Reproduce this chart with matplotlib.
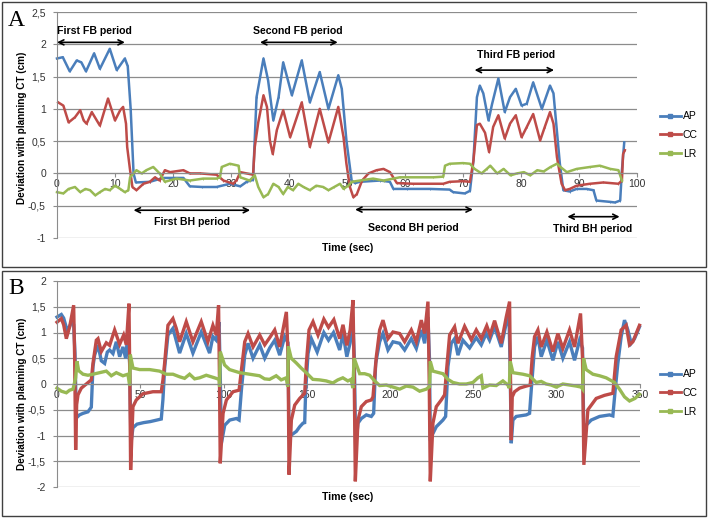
import numpy as np
import matplotlib
matplotlib.use("Agg")
import matplotlib.pyplot as plt
from matplotlib.lines import Line2D
from matplotlib.patches import Rectangle

plt.rcParams['font.family'] = ['Liberation Sans Narrow', 'Liberation Sans', 'DejaVu Sans']

# ---- panel A data (time in s, deviation in cm) ----
a_ap_t = [0, 1, 2.2, 3.4, 4.2, 5.0, 6.4, 7.4, 9.1, 10.3, 11.7, 12.2, 12.7, 13.2, 13.6, 16.0, 18.3, 21.8,
          22.9, 25.0, 27.5, 29.8, 31.6, 32.7, 33.8, 34.4, 35.6, 36.4, 37.3, 38.2, 39.0, 40.5, 42.2, 43.6,
          45.3, 46.8, 48.5, 49.1, 49.9, 50.8, 51.4, 52.2, 55.7, 57.4, 58.0, 60.3, 64.3, 67.7, 68.3, 70.3,
          71.2, 71.8, 72.4, 72.9, 73.5, 74.4, 75.0, 76.1, 77.2, 78.1, 79.1, 80.1, 81.0, 82.1, 83.6, 85.0,
          85.6, 86.7, 87.3, 88.4, 89.6, 91.3, 92.5, 93.0, 95.3, 96.2, 97.1, 97.4, 97.8]
a_ap_v = [1.78, 1.80, 1.58, 1.75, 1.72, 1.58, 1.86, 1.62, 1.93, 1.60, 1.78, 1.66, 1.00, 0.00, -0.14, -0.13,
          -0.07, -0.07, -0.20, -0.21, -0.21, -0.16, -0.20, -0.13, -0.10, 1.18, 1.78, 1.44, 0.82, 1.18, 1.72,
          1.21, 1.75, 1.10, 1.57, 1.00, 1.52, 1.31, 0.51, -0.11, -0.15, -0.13, -0.11, -0.13, -0.24, -0.24,
          -0.24, -0.25, -0.29, -0.31, -0.27, 0.20, 1.18, 1.36, 1.24, 0.82, 1.07, 1.47, 0.95, 1.18, 1.31,
          1.05, 1.08, 1.41, 1.00, 1.36, 1.24, 0.15, -0.26, -0.28, -0.24, -0.24, -0.26, -0.42, -0.44, -0.45,
          -0.42, 0.05, 0.48]

a_cc_t = [0.2, 1.1, 2.0, 3.1, 4.0, 4.6, 5.1, 6.0, 7.4, 8.8, 10.0, 10.9, 11.4, 11.9, 12.1, 12.6, 13.0, 13.7,
          14.9, 16.0, 16.9, 17.7, 18.6, 19.5, 21.8, 22.9, 24.7, 27.5, 28.7, 30.4, 31.0, 31.6, 33.8, 34.1,
          34.7, 35.6, 36.2, 36.7, 37.2, 37.9, 39.0, 40.2, 42.2, 43.6, 45.3, 46.8, 48.5, 49.4, 49.9, 50.5,
          51.1, 51.7, 52.6, 53.7, 55.1, 56.3, 57.4, 58.6, 61.4, 66.6, 67.7, 70.0, 71.2, 71.8, 72.4, 72.9,
          73.8, 74.5, 75.2, 76.1, 77.2, 78.1, 79.1, 80.1, 81.0, 82.1, 83.3, 84.1, 85.0, 85.6, 86.2, 87.0,
          87.6, 88.4, 89.6, 91.9, 94.2, 96.8, 97.4, 97.6, 97.9]
a_cc_v = [1.10, 1.05, 0.79, 0.87, 0.98, 0.82, 0.77, 0.95, 0.74, 1.16, 0.82, 0.98, 1.03, 0.77, 0.41, 0.05,
          -0.21, -0.26, -0.16, -0.13, -0.06, -0.11, 0.05, 0.02, 0.05, 0.00, 0.00, -0.02, -0.11, -0.16, -0.10,
          0.02, -0.02, 0.41, 0.79, 1.21, 1.03, 0.51, 0.30, 0.67, 0.98, 0.56, 1.10, 0.41, 1.00, 0.48, 1.03,
          0.56, 0.15, -0.21, -0.37, -0.32, -0.11, 0.00, 0.05, 0.07, 0.02, -0.15, -0.16, -0.16, -0.13, -0.12,
          -0.13, 0.20, 0.75, 0.77, 0.63, 0.33, 0.72, 0.90, 0.54, 0.77, 0.90, 0.56, 0.72, 0.92, 0.51, 0.72,
          0.95, 0.77, 0.25, -0.16, -0.26, -0.24, -0.19, -0.16, -0.14, -0.16, -0.11, 0.30, 0.36]

a_lr_t = [0, 1.1, 2.0, 3.1, 4.0, 4.9, 5.7, 6.6, 7.4, 8.3, 9.1, 10.0, 10.9, 11.7, 12.3, 12.6, 13.7, 14.6,
          15.4, 16.6, 17.7, 18.6, 20.6, 22.9, 25.2, 27.5, 28.1, 28.4, 29.8, 31.3, 31.6, 33.2, 34.1, 34.7,
          35.6, 36.4, 37.3, 38.2, 39.0, 39.8, 40.7, 41.6, 42.5, 43.6, 44.7, 45.9, 46.8, 47.8, 48.8, 49.4,
          50.2, 50.8, 52.2, 54.5, 56.3, 59.1, 64.9, 66.6, 66.9, 67.7, 70.0, 71.2, 72.0, 73.2, 74.1, 74.7,
          75.9, 77.0, 78.2, 79.3, 80.5, 81.6, 82.8, 83.9, 85.1, 86.2, 86.8, 87.9, 89.6, 91.9, 93.6, 95.4,
          96.8, 97.4]
a_lr_v = [-0.29, -0.31, -0.24, -0.21, -0.29, -0.24, -0.26, -0.34, -0.29, -0.24, -0.26, -0.19, -0.24, -0.29,
          -0.26, -0.06, 0.05, 0.00, 0.05, 0.10, 0.00, -0.13, -0.08, -0.11, -0.08, -0.08, -0.06, 0.10, 0.15,
          0.12, -0.06, -0.11, -0.03, -0.21, -0.37, -0.32, -0.16, -0.21, -0.32, -0.21, -0.26, -0.16, -0.21,
          -0.26, -0.19, -0.21, -0.26, -0.21, -0.16, -0.24, -0.19, -0.13, -0.11, -0.08, -0.11, -0.06, -0.06,
          -0.05, 0.12, 0.15, 0.16, 0.15, 0.07, 0.00, 0.07, 0.12, 0.00, 0.07, -0.03, 0.00, 0.02, -0.03, 0.05,
          0.03, 0.10, 0.15, 0.10, 0.02, 0.07, 0.10, 0.12, 0.07, 0.05, -0.11]

# ---- panel B data ----
b_ap_t = [0, 2.6, 4.0, 6.0, 7.6, 8.6, 10.0, 10.8, 11.6, 13.5, 15.6, 18.6, 20.6, 21.6, 22.6, 24.6, 26.6,
          28.6, 30.2, 31.6, 33.6, 35.6, 37.6, 39.6, 41.2, 42.6, 43.6, 44.4, 45.6, 48.0, 52.0, 56.0, 60.0,
          62.6, 63.6, 64.6, 66.6, 69.6, 73.6, 77.6, 81.6, 86.6, 91.6, 93.6, 95.6, 97.3, 98.0, 98.7, 100.7,
          103.7, 107.7, 109.3, 110.7, 112.7, 114.7, 117.7, 121.7, 124.7, 127.7, 130.7, 133.7, 136.7, 138.7,
          139.3, 140.7, 143.7, 145.7, 147.7, 148.7, 149.3, 150.7, 152.7, 156.2, 160.2, 163.0, 166.0, 169.7,
          171.7, 174.0, 176.0, 177.5, 178.5, 179.3, 180.7, 182.7, 185.7, 188.7, 190.1, 191.3, 193.7, 195.7,
          198.7, 201.7, 205.7, 208.7, 212.7, 215.7, 218.7, 220.7, 222.7, 223.6, 224.1, 225.7, 227.7, 231.7,
          233.3, 234.7, 236.7, 238.7, 240.7, 243.7, 247.7, 251.7, 254.7, 257.7, 259.7, 262.7, 266.7, 269.7,
          271.3, 272.0, 272.7, 273.7, 275.7, 281.7, 283.7, 284.7, 286.7, 288.7, 290.7, 294.1, 297.7, 300.7,
          303.7, 307.7, 310.7, 313.7, 315.5, 316.3, 317.7, 320.7, 325.7, 331.7, 333.7, 335.1, 336.7, 338.7,
          340.7, 342.7, 344.7, 346.7, 349.7]
b_ap_v = [1.30, 1.35, 1.28, 1.05, 1.12, 1.20, 1.15, 0.60, -0.66, -0.60, -0.57, -0.54, -0.45, 0.34, 0.56,
          0.76, 0.45, 0.40, 0.62, 0.66, 0.59, 0.82, 0.53, 0.72, 0.50, 0.98, 0.40, -1.15, -0.85, -0.78, -0.75,
          -0.73, -0.70, -0.68, -0.30, 0.30, 0.95, 1.08, 0.60, 0.98, 0.60, 1.01, 0.60, 0.92, 0.85, 1.20, 0.20,
          -1.15, -0.80, -0.70, -0.67, -0.70, -0.12, 0.56, 0.79, 0.50, 0.76, 0.50, 0.70, 0.85, 0.56, 0.92, 0.80,
          -1.02, -0.99, -0.92, -0.83, -0.76, -0.75, -0.12, 0.59, 0.88, 0.62, 1.00, 0.85, 1.00, 0.66, 0.98,
          0.53, 0.80, 1.30, 0.50, -1.21, -0.76, -0.67, -0.60, -0.63, -0.57, 0.40, 0.82, 0.98, 0.66, 0.82, 0.79,
          0.66, 0.88, 0.69, 1.05, 0.79, 1.30, 0.50, -1.02, -0.96, -0.83, -0.70, -0.63, 0.34, 0.79, 0.88, 0.56,
          0.85, 0.70, 0.90, 0.76, 0.98, 0.85, 1.11, 0.72, 1.18, 1.37, 0.40, -1.15, -0.70, -0.63, -0.60, -0.57,
          -0.12, 0.72, 0.92, 0.53, 0.85, 0.46, 0.82, 0.50, 0.82, 0.46, 0.85, 0.70, -1.02, -0.80, -0.70, -0.63,
          -0.60, -0.62, -0.12, 0.40, 0.92, 1.24, 1.05, 0.79, 0.88, 1.11]

b_cc_t = [0, 2.6, 4.0, 5.6, 7.6, 9.0, 10.0, 10.6, 11.2, 11.8, 12.6, 14.6, 17.6, 20.6, 21.6, 23.6, 24.6,
          26.6, 29.6, 31.6, 34.6, 37.6, 40.0, 41.6, 43.2, 43.7, 44.2, 45.6, 47.6, 51.6, 57.6, 62.6, 63.6,
          64.6, 66.6, 69.6, 71.6, 73.6, 77.6, 81.6, 86.6, 90.6, 93.6, 95.6, 97.0, 97.5, 98.0, 99.7, 101.7,
          105.7, 109.3, 110.7, 112.7, 114.7, 117.7, 121.7, 124.7, 127.7, 130.7, 133.7, 137.7, 138.7, 139.3,
          140.7, 142.7, 145.7, 148.7, 149.7, 151.3, 153.7, 156.7, 160.2, 163.0, 166.2, 169.7, 171.7, 174.0,
          176.0, 177.7, 178.4, 179.1, 180.7, 182.7, 185.7, 188.7, 189.7, 191.7, 193.7, 195.7, 198.7, 201.7,
          205.7, 208.7, 212.7, 215.7, 218.7, 220.7, 222.7, 223.4, 224.1, 225.7, 227.7, 230.7, 232.7, 233.7,
          235.7, 238.7, 240.7, 244.7, 248.7, 251.7, 254.7, 258.0, 260.0, 262.7, 266.7, 269.7, 271.7, 272.2,
          272.7, 273.3, 274.7, 277.7, 281.7, 284.1, 285.3, 286.7, 288.7, 290.7, 294.1, 297.7, 300.7, 303.7,
          307.7, 310.7, 314.3, 315.5, 316.3, 318.7, 323.7, 328.7, 333.7, 335.7, 338.7, 341.7, 343.7, 345.7,
          349.7]
b_cc_v = [1.20, 1.27, 1.15, 0.88, 1.11, 1.35, 1.53, 0.50, -1.28, -0.40, -0.21, -0.08, 0.00, 0.08, 0.40,
          0.85, 0.88, 0.63, 0.80, 0.75, 1.05, 0.77, 0.95, 0.76, 1.56, 0.20, -1.67, -0.44, -0.31, -0.19, -0.15,
          -0.15, 0.08, 0.40, 1.14, 1.27, 1.08, 0.82, 1.21, 0.82, 1.21, 0.82, 1.14, 0.95, 1.53, 0.20, -1.54,
          -0.57, -0.31, -0.15, -0.12, 0.27, 0.82, 0.98, 0.72, 0.95, 0.76, 0.90, 1.05, 0.72, 1.40, 0.60, -1.76,
          -0.70, -0.41, -0.28, -0.18, 0.40, 1.05, 1.21, 0.95, 1.26, 1.10, 1.25, 0.88, 1.15, 0.75, 1.05, 1.63,
          0.20, -1.89, -0.70, -0.44, -0.34, -0.31, -0.25, 0.53, 1.05, 1.24, 0.88, 1.01, 0.98, 0.82, 1.05, 0.82,
          1.24, 0.98, 1.60, 0.20, -1.89, -0.76, -0.44, -0.31, -0.21, 0.21, 0.95, 1.11, 0.79, 1.12, 0.86, 1.05,
          0.88, 1.13, 0.95, 1.23, 0.79, 1.30, 1.60, 0.30, -1.09, -0.25, -0.15, -0.08, -0.04, -0.02, 0.53, 0.92,
          1.05, 0.72, 1.01, 0.63, 0.98, 0.69, 1.05, 0.72, 1.37, 0.50, -1.57, -0.50, -0.28, -0.22, -0.18, 0.53,
          1.05, 1.14, 0.76, 0.82, 1.14]

b_lr_t = [0, 2.6, 5.6, 7.6, 9.6, 11.2, 12.0, 13.0, 15.6, 18.6, 21.6, 25.6, 29.6, 32.6, 35.6, 39.6, 42.6,
          43.6, 44.0, 45.6, 49.6, 55.6, 61.6, 65.6, 69.6, 73.6, 76.6, 79.6, 82.6, 85.6, 89.6, 94.6, 97.3,
          97.6, 98.0, 100.6, 103.6, 109.6, 115.6, 121.6, 124.6, 127.6, 131.6, 134.6, 137.6, 138.5, 138.9,
          140.6, 143.6, 146.6, 149.6, 153.6, 157.6, 161.6, 165.6, 168.6, 171.6, 174.6, 176.6, 177.6, 178.4,
          181.7, 184.7, 187.7, 190.7, 193.7, 197.7, 201.7, 205.7, 209.7, 213.7, 217.7, 221.7, 223.7, 224.1,
          225.7, 231.7, 234.7, 237.7, 241.7, 245.7, 249.7, 252.7, 254.7, 255.7, 259.7, 263.7, 267.7, 270.7,
          271.5, 272.1, 273.7, 279.7, 283.7, 287.7, 290.7, 293.7, 296.7, 299.7, 303.7, 307.7, 311.7, 314.7,
          315.6, 316.1, 317.7, 321.7, 325.7, 329.7, 334.7, 337.7, 340.7, 343.7, 347.0, 349.7]
b_lr_v = [-0.08, -0.14, -0.17, -0.12, -0.10, 0.12, 0.44, 0.26, 0.19, 0.17, 0.19, 0.22, 0.25, 0.16, 0.22,
          0.16, 0.19, -0.03, 0.57, 0.31, 0.28, 0.28, 0.25, 0.19, 0.19, 0.14, 0.11, 0.19, 0.10, 0.12, 0.17,
          0.12, 0.09, -0.05, 0.63, 0.37, 0.28, 0.22, 0.19, 0.16, 0.10, 0.09, 0.16, 0.08, 0.12, -0.05, 0.73,
          0.50, 0.41, 0.31, 0.22, 0.09, 0.08, 0.06, 0.02, 0.08, 0.12, 0.06, 0.09, -0.08, 0.50, 0.20, 0.20,
          0.17, 0.06, -0.03, -0.02, -0.06, -0.10, -0.04, -0.06, -0.14, -0.10, -0.05, 0.44, 0.25, 0.20, 0.09,
          0.03, 0.00, 0.00, 0.03, 0.12, 0.16, -0.08, -0.02, -0.03, 0.06, -0.02, -0.08, 0.44, 0.22, 0.19, 0.16,
          0.03, 0.05, 0.00, -0.02, -0.06, 0.00, -0.02, -0.04, -0.06, -0.10, 0.50, 0.28, 0.19, 0.16, 0.12,
          0.03, -0.10, -0.25, -0.33, -0.28, -0.20]

series_names = ["AP", "CC", "LR"]
colors = ["#4a7ebb", "#be4b48", "#98b954"]
grid_c = "#8c8c8c"

W, H = 709, 518
fig = plt.figure(figsize=(W / 100, H / 100), dpi=100)


def fx(px):
    return px / W


def fy(py):
    return 1 - py / H


def setup(ax, ymin, ymax, xmax, xstep):
    ax.set_xlim(0, xmax)
    ax.set_ylim(ymin, ymax)
    for s in ["top", "right"]:
        ax.spines[s].set_visible(False)
    ax.spines["bottom"].set_position(("data", 0))
    ax.spines["bottom"].set_color(grid_c)
    ax.spines["left"].set_color(grid_c)
    yt = np.arange(ymin, ymax + 0.01, 0.5)
    ax.set_yticks(yt)
    ax.set_yticklabels([("%g" % v).replace(".", ",") for v in yt])
    ax.set_xticks(np.arange(0, xmax + 1, xstep))
    ax.yaxis.grid(True, color=grid_c, lw=0.9)
    ax.set_axisbelow(True)
    ax.tick_params(axis="x", direction="out", length=3, color=grid_c, labelsize=7.5,
                   pad=1, labelcolor="#333333")
    ax.tick_params(axis="y", direction="out", length=3, color=grid_c, labelsize=7.5,
                   pad=5, labelcolor="#333333")


# panel A
axA = fig.add_axes([fx(57), fy(238), fx(637 - 57), (238 - 12) / H])
setup(axA, -1, 2.5, 100, 10)
for t, v, c in [(a_ap_t, a_ap_v, colors[0]), (a_cc_t, a_cc_v, colors[1]), (a_lr_t, a_lr_v, colors[2])]:
    axA.plot(t, v, color=c, lw=1.8, marker="|", ms=2, mew=0.6, clip_on=False)

arrow_kw = dict(arrowstyle="<->", lw=1.2, color="black", mutation_scale=9, shrinkA=0, shrinkB=0)
notes = [("First FB period", 6.5, 2.21, 0, 11.7, 2.03),
         ("Second FB period", 41.6, 2.21, 35.0, 48.4, 2.03),
         ("Third FB period", 79.1, 1.84, 72.0, 85.7, 1.60),
         ("First BH period", 23.2, -0.75, 13.2, 33.3, -0.57),
         ("Second BH period", 61.4, -0.85, 51.4, 71.7, -0.56),
         ("Third BH period", 92.4, -0.86, 88.0, 97.0, -0.67)]
for txt, tx, ty, x1, x2, ay in notes:
    axA.annotate("", xy=(x1, ay), xytext=(x2, ay), arrowprops=arrow_kw, annotation_clip=False)
    axA.text(tx, ty, txt, ha="center", va="center", fontsize=7.6, fontweight="bold", clip_on=False)

# panel B
axB = fig.add_axes([fx(57), fy(487), fx(640 - 57), (487 - 281) / H])
setup(axB, -2, 2, 350, 50)
for t, v, c in [(b_ap_t, b_ap_v, colors[0]), (b_cc_t, b_cc_v, colors[1]), (b_lr_t, b_lr_v, colors[2])]:
    axB.plot(t, v, color=c, lw=2.4, solid_joinstyle="miter", clip_on=False)

# legends
handles = [Line2D([], [], color=c, lw=2, marker="s", ms=2.5) for c in colors]
for ycen in (135, 393):
    fig.legend(handles, series_names, loc="center left", bbox_to_anchor=(fx(660), fy(ycen)),
               frameon=False, fontsize=7.5, handlelength=2.0, handletextpad=0.2,
               labelspacing=0.85, borderpad=0, borderaxespad=0)

# axis titles and panel letters
for yc, xl_y, letter, ly in [(128, 248, "A", 20), (394, 497, "B", 288)]:
    fig.text(fx(22), fy(yc), "Deviation with planning CT (cm)", rotation=90, ha="center",
             va="center", fontsize=7.2, fontweight="bold")
    fig.text(fx(348), fy(xl_y), "Time (sec)", ha="center", va="center", fontsize=7.6,
             fontweight="bold")
    fig.text(fx(16), fy(ly), letter, ha="center", va="center", fontsize=17,
             family=["Liberation Serif", "DejaVu Serif"])

# panel frames
fig.add_artist(Rectangle((fx(2), fy(267)), fx(704), (267 - 2) / H, transform=fig.transFigure,
                         fill=False, ec="#404040", lw=1))
fig.add_artist(Rectangle((fx(2), fy(516)), fx(704), (516 - 271) / H, transform=fig.transFigure,
                         fill=False, ec="#404040", lw=1))

fig.savefig("out.png", dpi=100)
